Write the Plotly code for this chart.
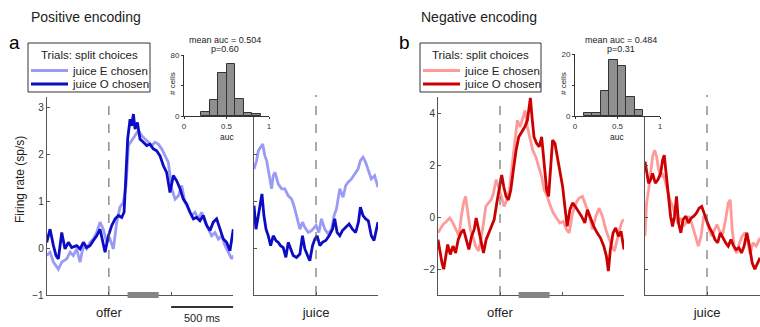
import plotly.graph_objects as go

W, H = 760, 327


def px(x):
    return x / W


def py(y):
    return 1 - y / H


# ---------------- data ----------------
# Panel a (positive encoding), aligned to offer: time (ms) and firing rate (sp/s)
a_off_t_E = [-500, -473, -446, -406, -379, -339, -312, -286, -259, -232, -205, -179, -152, -125, -98, -71, -45,
             -18, 9, 36, 63, 89, 116, 138, 157, 183, 210, 237, 264, 290, 317, 344, 371, 397, 424, 451, 478, 505,
             532, 559, 585, 612, 639, 665, 692, 719, 746, 773, 800, 826, 853, 880, 907, 933, 960, 987, 1000]
a_off_E = [-0.16, -0.09, -0.30, -0.45, -0.30, -0.23, -0.09, -0.16, -0.02, -0.30, 0.05, -0.02, 0.12, 0.19, 0.33,
           0.55, 0.40, 0.12, 0.19, -0.02, 0.55, 0.87, 0.97, 1.33, 2.18, 2.28, 2.39, 2.50, 2.39, 2.32, 2.25, 2.18,
           2.25, 2.21, 2.11, 1.96, 1.82, 1.26, 1.04, 1.11, 1.33, 0.97, 0.83, 0.69, 0.76, 0.62, 0.76, 0.55, 0.40,
           0.26, 0.33, 0.19, 0.26, 0.05, -0.09, -0.23, -0.16]
a_off_t_O = [-500, -473, -446, -425, -406, -379, -353, -326, -299, -259, -232, -205, -179, -152, -125, -98, -71,
             -50, -31, -4, 23, 50, 77, 103, 122, 138, 151, 170, 183, 197, 210, 229, 250, 277, 304, 330, 357, 384,
             411, 438, 464, 491, 518, 545, 572, 598, 625, 652, 679, 705, 732, 759, 786, 813, 839, 866, 893, 920,
             946, 973, 1000]
a_off_O = [0.12, 0.40, 0.05, -0.16, -0.23, 0.33, -0.02, 0.12, 0.01, 0.05, -0.02, 0.12, 0.01, 0.05, 0.16, 0.26,
           0.40, 0.12, -0.09, 0.26, 0.48, 0.62, 0.69, 0.65, 0.76, 1.61, 2.32, 2.74, 2.60, 2.85, 2.53, 2.67, 2.32,
           2.25, 2.18, 2.21, 2.11, 2.07, 1.96, 1.75, 1.61, 1.18, 1.54, 1.43, 1.26, 1.04, 0.94, 0.76, 0.62, 0.65,
           0.58, 0.69, 0.48, 0.37, 0.55, 0.62, 0.40, 0.19, 0.12, -0.06, 0.40]

# Panel a, aligned to juice delivery
a_jui_t_E = [-500, -479, -465, -446, -430, -412, -398, -377, -358, -345, -331, -304, -277, -251, -224, -197,
             -178, -157, -130, -109, -90, -63, -36, 1, 23, 44, 71, 98, 125, 146, 165, 192, 218, 240, 259, 286,
             312, 339, 358, 379, 401, 420, 446, 473, 500]
a_jui_E = [1.68, 1.86, 2.07, 2.14, 2.21, 1.96, 1.86, 1.54, 1.26, 1.54, 1.61, 1.36, 1.26, 1.26, 1.11, 1.04, 0.90,
           0.69, 0.40, 0.55, 0.44, 0.33, 0.37, 0.48, 0.33, 0.62, 0.40, 0.30, 0.40, 0.69, 0.83, 1.26, 1.08, 1.33,
           1.40, 1.47, 1.57, 1.68, 1.86, 1.93, 1.82, 1.68, 1.47, 1.54, 1.29]
a_jui_t_O = [-500, -484, -465, -446, -436, -420, -403, -385, -366, -345, -323, -304, -286, -264, -243, -224,
             -205, -184, -157, -130, -109, -90, -68, -50, -28, -9, 9, 31, 52, 79, 106, 133, 151, 170, 192, 213,
             240, 267, 294, 320, 342, 358, 379, 401, 422, 446, 468, 487, 500]
a_jui_O = [0.90, 0.40, 0.69, 1.04, 1.15, 0.69, 0.40, 0.26, 0.05, 0.26, 0.16, 0.12, 0.05, 0.01, -0.20, 0.12,
           -0.02, -0.16, -0.20, -0.13, 0.26, -0.02, -0.16, -0.27, 0.05, 0.19, 0.26, 0.05, 0.12, 0.16, 0.26, 0.40,
           0.62, 0.33, 0.26, 0.37, 0.44, 0.51, 0.40, 0.33, 0.55, 0.87, 0.69, 0.62, 0.58, 0.26, 0.16, 0.40, 0.55]

# Panel b (negative encoding), aligned to offer
b_off_t_E = [-500, -481, -460, -433, -406, -379, -353, -331, -312, -294, -278, -259, -240, -219, -197, -173,
             -154, -133, -114, -93, -71, -53, -31, -12, 9, 33, 55, 76, 97, 119, 140, 162, 183, 202, 221, 242, 264,
             288, 312, 336, 357, 381, 403, 430, 456, 483, 510, 537, 558, 585, 612, 639, 665, 692, 719, 746, 773,
             799, 826, 853, 877, 901, 923, 944, 965, 984, 1000]
b_off_E = [-0.61, -0.48, -0.29, -0.17, -0.04, -0.23, -0.48, -0.74, 0.03, 0.54, 0.79, 0.15, -0.48, -0.74, -1.12,
           -1.31, -0.87, -0.23, 0.41, 0.54, 0.66, 0.92, 1.43, 1.17, 0.79, 0.41, 0.66, 1.04, 1.94, 2.83, 3.72,
           3.46, 3.85, 4.10, 3.46, 2.96, 2.57, 2.32, 1.94, 1.55, 1.04, 0.79, 0.47, 0.15, -0.04, -0.23, -0.17,
           -0.48, -0.61, 0.15, 0.54, 0.73, 0.79, 0.47, 0.09, -0.48, 0.03, 0.34, 0.03, -0.48, -0.80, -1.12, -1.31,
           -0.87, -0.48, -0.17, -0.10]
b_off_t_O = [-500, -484, -468, -454, -438, -422, -401, -379, -358, -337, -315, -294, -272, -251, -229, -208,
             -192, -173, -154, -133, -112, -90, -69, -47, -26, -4, 14, 30, 49, 68, 87, 108, 130, 151, 175, 199,
             221, 237, 245, 258, 274, 296, 317, 336, 355, 376, 392, 408, 424, 443, 462, 483, 505, 526, 542, 564,
             585, 606, 631, 657, 684, 705, 730, 756, 783, 810, 837, 858, 874, 890, 912, 933, 955, 976, 1000]
b_off_O = [-0.87, -1.38, -1.76, -2.01, -1.50, -1.06, -1.44, -1.12, -1.38, -0.87, -0.61, -0.48, -0.87, -1.25,
           -0.74, -0.48, -0.04, -0.48, -0.99, -1.38, -0.87, -0.61, -0.36, -0.10, 0.54, 1.17, 1.62, 1.17, 0.79,
           0.66, 1.04, 1.81, 2.57, 3.08, 3.27, 3.46, 3.72, 4.45, 4.58, 3.85, 3.08, 2.83, 2.70, 3.08, 2.06, 1.04,
           0.79, 1.94, 2.96, 2.83, 2.32, 1.81, 1.17, 0.28, -0.36, 0.28, 0.54, 0.41, 0.22, 0.03, -0.23, 0.28,
           -0.04, -0.36, -0.61, -0.80, -1.12, -1.50, -2.08, -1.25, -0.61, -0.42, -0.74, -0.55, -1.25]

# Panel b, aligned to juice delivery (the panel is cut at the right edge)
b_jui_t_E = [-500, -487, -471, -455, -439, -422, -406, -390, -374, -358, -340, -321, -299, -278, -257, -235,
             -214, -193, -171, -150, -128, -107, -86, -70, -48, -27, -5, 16, 37, 59, 80, 102, 128, 150, 171, 187,
             203, 222, 241, 262, 283, 305, 326, 348, 369, 396, 427]
b_jui_E = [-0.74, 0.54, 1.04, 1.81, 2.32, 2.57, 2.32, 1.81, 1.55, 1.68, 1.43, 1.04, 0.66, 0.41, 0.09, -0.23,
           -0.04, -0.36, -0.23, 0.03, -0.17, -0.48, -0.87, -1.12, -0.74, 0.03, -0.10, -0.48, -0.74, -0.48, -0.29,
           -0.55, -0.61, -0.10, 0.54, 0.66, -0.48, -1.25, -1.38, -0.99, -0.74, -0.61, -0.87, -1.44, -0.99, -1.12,
           -0.80]
b_jui_t_O = [-500, -487, -471, -455, -439, -417, -396, -374, -358, -345, -326, -310, -294, -278, -262, -246,
             -230, -211, -193, -171, -150, -128, -107, -86, -64, -43, -21, 0, 21, 43, 64, 86, 107, 128, 150, 171,
             193, 214, 235, 257, 278, 299, 321, 342, 364, 385, 406, 427]
b_jui_O = [2.13, 1.81, 1.30, 1.43, 1.68, 1.30, 1.43, 1.68, 2.19, 2.38, 1.43, 0.66, 0.03, -0.36, 0.03, 0.79,
           -0.23, -0.61, -0.10, 0.03, -0.23, -0.04, 0.03, 0.15, 0.34, 0.41, 0.09, -0.17, -0.42, -0.61, -0.87,
           -0.99, -0.61, -0.80, -0.99, -1.12, -0.87, -1.12, -1.25, -1.18, -1.38, -1.12, -0.61, -1.12, -1.76,
           -2.01, -1.76, -1.57]

# AUC histograms (bin centres, cell counts)
hist_a_centers = [0.25, 0.35, 0.45, 0.55, 0.65, 0.75, 0.85]
hist_a_counts = [5, 21, 57, 68, 22, 4, 3]
hist_b_centers = [0.15, 0.25, 0.35, 0.45, 0.55, 0.65, 0.75]
hist_b_counts = [1, 1, 8, 18, 16, 6, 2]
hist_a_title = ["mean auc = 0.504", "p=0.60"]
hist_b_title = ["mean auc = 0.484", "p=0.31"]

analysis_window = [150, 400]   # ms after offer
scale_bar = [500, 1000]        # ms

legend_title = "Trials: split choices"
series_names = ["juice E chosen", "juice O chosen"]

# ---------------- styling ----------------
FONT = "Liberation Sans, Arial, Helvetica, sans-serif"
AX = "#555555"
BLUE_L, BLUE_D = "#9a9af7", "#0c0cc4"
RED_L, RED_D = "#ff9a9a", "#cc0000"
LW = 2.8

# pixel geometry of the panels
Y_BOT, Y_TOP, Y_HIST = 295, 97, 116

fig = go.Figure()


def add_line(t, v, color, name, xa, ya):
    fig.add_trace(go.Scatter(x=t, y=v, mode="lines", line=dict(color=color, width=LW),
                             name=name, xaxis=xa, yaxis=ya, showlegend=False, hoverinfo="skip"))


# panel a
add_line(a_off_t_E, a_off_E, BLUE_L, series_names[0], "x", "y")
add_line(a_off_t_O, a_off_O, BLUE_D, series_names[1], "x", "y")
add_line(a_jui_t_E, a_jui_E, BLUE_L, series_names[0], "x2", "y2")
add_line(a_jui_t_O, a_jui_O, BLUE_D, series_names[1], "x2", "y2")
# panel b
add_line(b_off_t_E, b_off_E, RED_L, series_names[0], "x4", "y4")
add_line(b_off_t_O, b_off_O, RED_D, series_names[1], "x4", "y4")
add_line(b_jui_t_E, b_jui_E, RED_L, series_names[0], "x5", "y5")
add_line(b_jui_t_O, b_jui_O, RED_D, series_names[1], "x5", "y5")

for cx, cnt, xa, ya in [(hist_a_centers, hist_a_counts, "x3", "y3"),
                        (hist_b_centers, hist_b_counts, "x6", "y6")]:
    fig.add_trace(go.Bar(x=cx, y=cnt, width=0.1, xaxis=xa, yaxis=ya, showlegend=False,
                         marker=dict(color="#8f8f8f", line=dict(color="#333333", width=1)),
                         hoverinfo="skip"))


def main_x(domain, rng, tickvals, ticktext, anchor):
    return dict(domain=domain, range=rng, showline=True, linecolor=AX, linewidth=1, anchor=anchor,
                ticks="inside", ticklen=3, tickcolor=AX, tickvals=tickvals, ticktext=ticktext,
                ticklabelstandoff=5, tickfont=dict(size=13, color="#222"),
                showgrid=False, zeroline=False, fixedrange=True)


def main_y(domain, rng, tickvals, labels, anchor):
    return dict(domain=domain, range=rng, showline=True, linecolor=AX, linewidth=1, anchor=anchor,
                ticks="inside", ticklen=3, tickcolor=AX, tickvals=tickvals, showticklabels=labels,
                tickfont=dict(size=10, color="#333"), showgrid=False, zeroline=False, fixedrange=True)


def hist_x(domain, anchor):
    return dict(domain=domain, range=[0, 1.0], showline=True, linecolor="#333", linewidth=1, anchor=anchor,
                ticks="outside", ticklen=2, tickcolor="#333", tickvals=[0, 0.5, 1], ticktext=["0", "0.5", "1"],
                ticklabelstandoff=0, tickfont=dict(size=8, color="#333"),
                showgrid=False, zeroline=False, fixedrange=True)


def hist_y(domain, top, anchor):
    return dict(domain=domain, range=[0, top], showline=True, linecolor="#333", linewidth=1, anchor=anchor,
                ticks="outside", ticklen=2, tickcolor="#333", tickvals=[0, top / 2, top],
                ticktext=["0", "", str(top)], tickfont=dict(size=8, color="#333"),
                showgrid=False, zeroline=False, fixedrange=True)


ydom_full = [py(Y_BOT), py(Y_TOP)]
ydom_cut = [py(Y_BOT), py(Y_HIST)]
ya_rng = [-1, -1 + (Y_BOT - Y_TOP) / 47.0]
yb_rng = [-3, -3 + (Y_BOT - Y_TOP) / 26.0]
ya_cut = [-1, -1 + (Y_BOT - Y_HIST) / 47.0]
yb_cut = [-3, -3 + (Y_BOT - Y_HIST) / 26.0]

fig.update_layout(
    width=W, height=H, margin=dict(l=0, r=0, t=0, b=0, autoexpand=False),
    paper_bgcolor="white", plot_bgcolor="rgba(0,0,0,0)", showlegend=False,
    font=dict(family=FONT, color="#222"),
    xaxis=main_x([px(46.7), px(233.3)], [-500, 1000], [0, 500, 1000], ["offer", "", ""], "y"),
    yaxis=main_y(ydom_full, ya_rng, [-1, 0, 1, 2, 3], True, "x"),
    xaxis2=main_x([px(254), px(378)], [-500, 500], [0], ["juice"], "y2"),
    yaxis2=main_y(ydom_cut, ya_cut, [-1, 0, 1, 2], False, "x2"),
    xaxis3=hist_x([px(184), px(269)], "y3"),
    yaxis3=hist_y([py(116), py(55)], 80, "x3"),
    xaxis4=main_x([px(438), px(624)], [-500, 1000], [0, 500, 1000], ["offer", "", ""], "y4"),
    yaxis4=main_y(ydom_full, yb_rng, [-2, 0, 2, 4], True, "x4"),
    xaxis5=main_x([px(645), 1.0], [-500, 427], [0], ["juice"], "y5"),
    yaxis5=main_y(ydom_cut, yb_cut, [-2, 0, 2], False, "x5"),
    xaxis6=hist_x([px(575), px(660)], "y6"),
    yaxis6=hist_y([py(116), py(54)], 20, "x6"),
    bargap=0,
)

shapes = []
ann = []


def text(x, y, s, size, **kw):
    d = dict(x=x, y=y, xref="paper", yref="paper", text=s, showarrow=False,
             font=dict(size=size, color=kw.pop("color", "#222")), xanchor=kw.pop("xanchor", "center"),
             yanchor="middle", borderpad=0)
    d.update(kw)
    ann.append(d)


# event markers
for xr, y_top in [("x", Y_TOP), ("x2", 95), ("x4", Y_TOP), ("x5", 95)]:
    shapes.append(dict(type="line", xref=xr, yref="paper", x0=0, x1=0, y0=py(Y_BOT), y1=py(y_top),
                       line=dict(color="#555", width=1, dash="dash")))
# analysis window bars on the offer axes
for xr in ["x", "x4"]:
    shapes.append(dict(type="rect", xref=xr, yref="paper", x0=analysis_window[0], x1=analysis_window[1],
                       y0=py(Y_BOT + 3), y1=py(Y_BOT - 3), fillcolor="#858585", line=dict(width=0)))
# time scale bar
shapes.append(dict(type="line", xref="x", yref="paper", x0=scale_bar[0], x1=scale_bar[1],
                   y0=py(307), y1=py(307), line=dict(color="#333", width=2)))

# boxed keys for each panel
for (x0, x1), colors in [((28, 150), (BLUE_L, BLUE_D)), ((420, 541), (RED_L, RED_D))]:
    shapes.append(dict(type="rect", xref="paper", yref="paper", x0=px(x0), x1=px(x1), y0=py(92), y1=py(43),
                       fillcolor="white", line=dict(color="#333", width=1)))
    text(px((x0 + x1) / 2), py(55.5), legend_title, 11.5)
    for row_y, col, name in [(70.5, colors[0], series_names[0]), (84, colors[1], series_names[1])]:
        shapes.append(dict(type="line", xref="paper", yref="paper", x0=px(x0 + 3), x1=px(x0 + 40),
                           y0=py(row_y), y1=py(row_y), line=dict(color=col, width=3)))
        text(px(x0 + 43), py(row_y), name, 11.5, xanchor="left")

fig.update_layout(shapes=shapes)

text(px(30), py(17), "Positive encoding", 14, xanchor="left")
text(px(420), py(17), "Negative encoding", 14, xanchor="left")
text(px(8), py(42), "a", 19, xanchor="left", color="#000")
text(px(398), py(42), "b", 19, xanchor="left", color="#000")
text(px(20), py(180), "Firing rate (sp/s)", 12, textangle=-90)
for cx, t in [(225, hist_a_title), (621, hist_b_title)]:
    text(px(cx), py(40), t[0], 9)
    text(px(cx), py(49.5), t[1], 9)
for cx, ax_x in [(227, 172), (617, 563)]:
    text(px(cx), py(136.5), "auc", 8.5)
    text(px(ax_x), py(84), "# cells", 8, textangle=-90)
ann.append(dict(x=(scale_bar[0] + scale_bar[1]) / 2, y=py(318), xref="x", yref="paper", text="500 ms",
                showarrow=False, font=dict(size=11, color="#222"), yanchor="middle"))
fig.update_layout(annotations=ann)

fig.write_html("out.html")
